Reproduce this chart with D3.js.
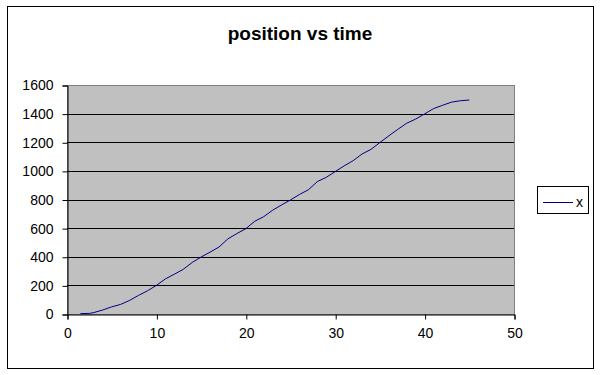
<!DOCTYPE html>
<html>
<head>
<meta charset="utf-8">
<script src="https://cdn.jsdelivr.net/npm/d3@7"></script>
<style>
  body { margin: 0; background: #fff; }
  svg { display: block; font-family: "Liberation Sans", Arial, sans-serif; }
</style>
</head>
<body>
<div id="chart"></div>
<script>
// time values and position values
const times = [1.5, 2.5, 3, 4, 5, 6, 7, 8, 9, 10, 11, 12, 13, 14, 15, 16, 17, 18, 19, 20,
  21, 22, 23, 24, 25, 26, 27, 28, 29, 30, 31, 32, 33, 34, 35, 36, 37, 38, 39, 40,
  41, 42, 43, 44, 45];
const positions = [3, 4, 10, 28, 50, 67, 95, 130, 162, 200, 245, 278, 312, 360, 398, 432, 468, 525, 562, 596,
  648, 680, 725, 762, 797, 835, 868, 925, 955, 995, 1035, 1071, 1118, 1150, 1198, 1245, 1290, 1333, 1362, 1398,
  1435, 1458, 1480, 1490, 1495];
const xTicks = [0, 10, 20, 30, 40, 50];
const yTicks = [0, 200, 400, 600, 800, 1000, 1200, 1400, 1600];
const seriesName = "x";
const title = "position vs time";

const data = times.map((t, i) => ({t: t, v: positions[i]}));

const W = 602, H = 375;
const margin = {top: 85, right: 88, bottom: 61, left: 67};

const svg = d3.select("#chart")
  .append("svg")
  .attr("width", W)
  .attr("height", H);

// outer border
svg.append("rect")
  .attr("x", 7.5).attr("y", 6.5)
  .attr("width", 586).attr("height", 362)
  .attr("fill", "#fff")
  .attr("stroke", "#000");

// Scales
const x = d3.scaleLinear()
  .domain([0, 50])
  .range([margin.left, W - margin.right]);
const y = d3.scaleLinear()
  .domain([0, 1600])
  .range([H - margin.bottom, margin.top]);

// plot area
svg.append("rect")
  .attr("x", x(0) + 0.5).attr("y", y(1600) + 0.5)
  .attr("width", x(50) - x(0)).attr("height", y(0) - y(1600))
  .attr("fill", "#c0c0c0")
  .attr("stroke", "#808080");

// gridlines
svg.append("g")
  .selectAll("line")
  .data(yTicks.filter(d => d > 0 && d < 1600))
  .join("line")
  .attr("x1", x(0)).attr("x2", x(50))
  .attr("y1", d => Math.round(y(d)) + 0.5)
  .attr("y2", d => Math.round(y(d)) + 0.5)
  .attr("stroke", "#000");

// Axes
const xAxis = svg.append("g")
  .attr("transform", `translate(0.5,${Math.round(y(0)) + 0.5})`)
  .call(d3.axisBottom(x).tickValues(xTicks).tickFormat(d3.format("d"))
    .tickSizeOuter(0).tickSize(5).tickPadding(9));
const yAxis = svg.append("g")
  .attr("transform", `translate(${x(0) + 0.5},0.5)`)
  .call(d3.axisLeft(y).tickValues(yTicks).tickFormat(d3.format("d"))
    .tickSizeOuter(0).tickSize(5).tickPadding(9));

[xAxis, yAxis].forEach(g => {
  g.select(".domain").attr("stroke", "#000");
  g.selectAll(".tick line").attr("stroke", "#000");
  g.selectAll(".tick text")
    .attr("fill", "#000")
    .style("font-family", "'Liberation Sans', Arial, sans-serif")
    .style("font-size", "14px");
});

// Line
const line = d3.line()
  .x(d => x(d.t))
  .y(d => y(d.v));

svg.append("path")
  .datum(data)
  .attr("fill", "none")
  .attr("stroke", "#000080")
  .attr("stroke-width", 1)
  .attr("d", line);

// Title
svg.append("text")
  .attr("x", 300)
  .attr("y", 40)
  .attr("text-anchor", "middle")
  .attr("font-weight", "bold")
  .style("font-size", "19px")
  .text(title);

// Legend
const legend = svg.append("g");
legend.append("rect")
  .attr("x", 537.5).attr("y", 186.5)
  .attr("width", 51).attr("height", 27)
  .attr("fill", "#fff")
  .attr("stroke", "#000");
legend.append("line")
  .attr("x1", 543).attr("x2", 573)
  .attr("y1", 202.5).attr("y2", 202.5)
  .attr("stroke", "#000080");
legend.append("text")
  .attr("x", 576)
  .attr("y", 207)
  .style("font-size", "14px")
  .text(seriesName);
</script>
</body>
</html>
